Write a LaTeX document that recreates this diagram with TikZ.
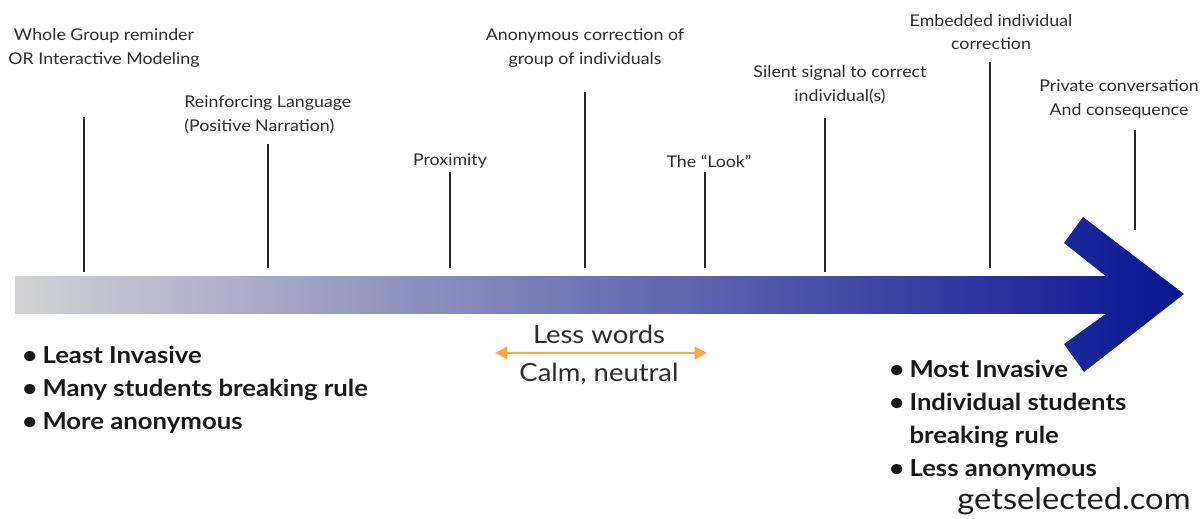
\documentclass[tikz,border=0pt]{standalone}
\usepackage{fontspec}
\setmainfont{Lato}[FakeStretch=1.1]
\usetikzlibrary{arrows.meta}
\definecolor{barL}{RGB}{210,210,214}
\definecolor{barR}{RGB}{22,32,150}
\definecolor{headL}{RGB}{26,40,156}
\definecolor{headR}{RGB}{10,22,140}
\definecolor{orangeA}{RGB}{245,170,70}
\definecolor{txt}{RGB}{45,45,45}
\begin{document}
\begin{tikzpicture}[x=0.02cm,y=-0.02cm,
  lbl/.style={font=\fontsize{9.2}{13.4}\selectfont, text=txt, align=center, inner sep=0},
  tick/.style={line width=1.6pt, black!85},
  blist/.style={font=\fontsize{13.3}{18.7}\selectfont\bfseries, text=black!90, inner sep=0, anchor=west},
  mid/.style={font=\fontsize{14.2}{16}\selectfont, text=txt, inner sep=0},
  oarrow/.style={draw=orangeA, line width=1.7pt, {Triangle[length=7pt,width=7pt]}-{Triangle[length=7pt,width=7pt]}}]
\useasboundingbox (0,0) rectangle (1202,519);
% shaft and head of the big arrow
\shade[left color=barL, right color=barR] (15,277) rectangle (1108,314);
\shade[left color=headL, right color=headR]
  (1083,217) -- (1184,294) -- (1084,372) -- (1064,344) -- (1107,313)
  -- (1107,277) -- (1064,243) -- cycle;
% ticks
\foreach \i/\x/\ya/\yb in {1/84/117/272, 2/268/144/268, 3/450/172/268, 4/585/92/268,
    5/705/172/268, 6/825/118/272, 7/990/62/268, 8/1135/130/230} {
  \coordinate (t\i a) at (\x,\ya);
  \coordinate (t\i b) at (\x,\yb);
  \draw[tick] (t\i a) -- (t\i b);
}
% labels
\node[lbl] (l1) at (104,48) {Whole Group reminder\\OR Interactive Modeling};
\node[lbl, align=left, anchor=west] (l2) at (184,115) {Reinforcing Language\\(Positive Narration)};
\node[lbl] (l3) at (450,161) {Proximity};
\node[lbl] (l4) at (585,48) {Anonymous correction of\\group of individuals};
\node[lbl] (l5) at (709,161) {The “Look”};
\node[lbl] (l6) at (840,85) {Silent signal to correct\\individual(s)};
\node[lbl] (l7) at (991,32) {Embedded individual\\correction};
\node[lbl] (l8) at (1119,99) {Private conversation\\And consequence};
% bullet lists
\node[blist] (bl) at (22,390) {\begin{tabular}{@{}l@{\hspace{3pt}}l@{}}•&Least Invasive\\•&Many students breaking rule\\•&More anonymous\end{tabular}};
\node[blist] (br) at (889,420.5) {\begin{tabular}{@{}l@{\hspace{3pt}}l@{}}•&Most Invasive\\•&Individual students\\&breaking rule\\•&Less anonymous\end{tabular}};
% middle
\node[mid] (lw) at (599,334) {Less words};
\node[mid] (cn) at (599,374) {Calm, neutral};
\coordinate (oa) at (495,353);
\coordinate (ob) at (707,353);
\draw[oarrow] (oa) -- (ob);
% credit
\node[font=\fontsize{16.9}{19}\selectfont, text=black!88, inner sep=0] (gs) at (1074,501) {getselected.com};
\end{tikzpicture}
\end{document}
